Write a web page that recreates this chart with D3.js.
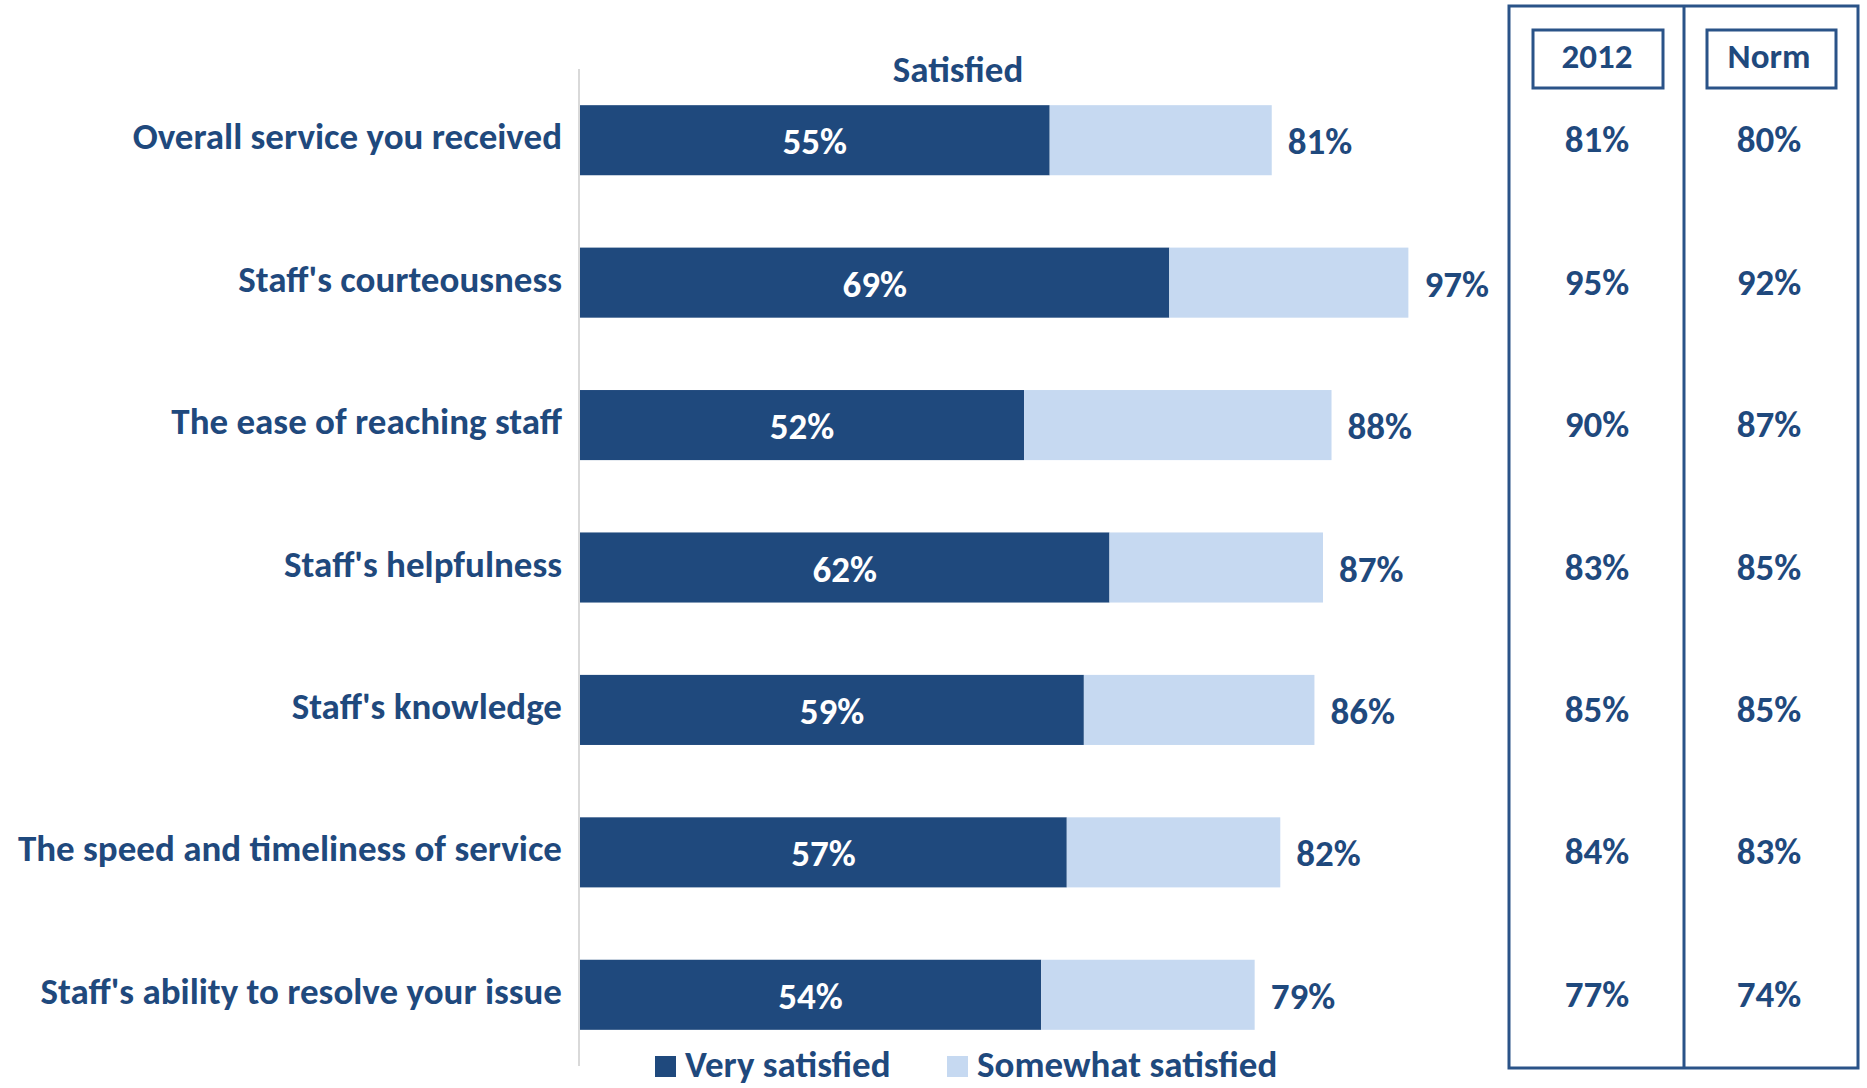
<!DOCTYPE html>
<html>
<head>
<meta charset="utf-8">
<script src="https://cdn.jsdelivr.net/npm/d3@7"></script>
<style>
  html, body { margin: 0; padding: 0; background: #fff; }
  svg text { font-family: Carlito, Lato, "Open Sans", sans-serif; font-weight: bold; }
</style>
</head>
<body>
<svg id="chart" width="1867" height="1088"></svg>
<script>
const categories = [
  "Overall service you received",
  "Staff's courteousness",
  "The ease of reaching staff",
  "Staff's helpfulness",
  "Staff's knowledge",
  "The speed and timeliness of service",
  "Staff's ability to resolve your issue"
];
const verySatisfied = [55, 69, 52, 62, 59, 57, 54];
const somewhatSatisfied = [26, 28, 36, 25, 27, 25, 25];
const totalSatisfied = [81, 97, 88, 87, 86, 82, 79];
const values2012 = [81, 95, 90, 83, 85, 84, 77];
const valuesNorm = [80, 92, 87, 85, 85, 83, 74];
const seriesNames = ["Very satisfied", "Somewhat satisfied"];
const columnHeaders = ["2012", "Norm"];

const dark = "#1F497D", light = "#C6D9F1", textColor = "#1F497D", boxColor = "#2A5388";
const fs = 37;

const svg = d3.select("#chart");

const x = d3.scaleLinear().domain([0, 100]).range([580, 1434]);
const y = d3.scaleBand().domain(categories).range([69, 1066]).paddingInner(0.508).paddingOuter(0.254);

// axis line
svg.append("line")
  .attr("x1", 579).attr("x2", 579)
  .attr("y1", 69).attr("y2", 1066)
  .attr("stroke", "#D9D9D9").attr("stroke-width", 2);

// title
svg.append("text").attr("x", 958).attr("y", 82)
  .attr("text-anchor", "middle").attr("font-size", fs).attr("fill", textColor)
  .text("Satisfied");

const rows = categories.map((c, i) => ({
  c, very: verySatisfied[i], some: somewhatSatisfied[i], total: totalSatisfied[i],
  v2012: values2012[i], norm: valuesNorm[i]
}));

const g = svg.append("g");

g.selectAll("rect.very").data(rows).join("rect")
  .attr("class", "very")
  .attr("x", x(0)).attr("y", d => y(d.c))
  .attr("width", d => x(d.very) - x(0)).attr("height", y.bandwidth())
  .attr("fill", dark);

g.selectAll("rect.some").data(rows).join("rect")
  .attr("class", "some")
  .attr("x", d => x(d.very)).attr("y", d => y(d.c))
  .attr("width", d => x(d.very + d.some) - x(d.very)).attr("height", y.bandwidth())
  .attr("fill", light);

// category labels
g.selectAll("text.cat").data(rows).join("text")
  .attr("class", "cat")
  .attr("x", 562).attr("y", d => y(d.c) + y.bandwidth() / 2 + 9)
  .attr("text-anchor", "end").attr("font-size", fs).attr("fill", textColor)
  .text(d => d.c);

// inside labels
g.selectAll("text.inside").data(rows).join("text")
  .attr("class", "inside")
  .attr("x", d => (x(0) + x(d.very)) / 2).attr("y", d => y(d.c) + y.bandwidth() / 2 + 14)
  .attr("text-anchor", "middle").attr("font-size", fs).attr("fill", "#fff")
  .text(d => d.very + "%");

// total labels
g.selectAll("text.total").data(rows).join("text")
  .attr("class", "total")
  .attr("x", d => x(d.very + d.some) + 16).attr("y", d => y(d.c) + y.bandwidth() / 2 + 14)
  .attr("text-anchor", "start").attr("font-size", fs).attr("fill", textColor)
  .text(d => d.total + "%");

// right panel
const panel = svg.append("g");
panel.append("rect").attr("x", 1509).attr("y", 6).attr("width", 349).attr("height", 1062)
  .attr("fill", "none").attr("stroke", boxColor).attr("stroke-width", 3);
panel.append("line").attr("x1", 1684).attr("x2", 1684).attr("y1", 6).attr("y2", 1068)
  .attr("stroke", boxColor).attr("stroke-width", 3);

const colX = [1597, 1769];
const headerBoxes = [{x: 1533, w: 130}, {x: 1707, w: 129}];
columnHeaders.forEach((h, i) => {
  panel.append("rect").attr("x", headerBoxes[i].x).attr("y", 30)
    .attr("width", headerBoxes[i].w).attr("height", 58)
    .attr("fill", "none").attr("stroke", boxColor).attr("stroke-width", 3);
  panel.append("text").attr("x", colX[i]).attr("y", 68)
    .attr("text-anchor", "middle").attr("font-size", 35).attr("fill", textColor)
    .text(h);
});

panel.selectAll("text.c2012").data(rows).join("text")
  .attr("class", "c2012")
  .attr("x", colX[0]).attr("y", d => y(d.c) + y.bandwidth() / 2 + 12)
  .attr("text-anchor", "middle").attr("font-size", fs).attr("fill", textColor)
  .text(d => d.v2012 + "%");

panel.selectAll("text.cnorm").data(rows).join("text")
  .attr("class", "cnorm")
  .attr("x", colX[1]).attr("y", d => y(d.c) + y.bandwidth() / 2 + 12)
  .attr("text-anchor", "middle").attr("font-size", fs).attr("fill", textColor)
  .text(d => d.norm + "%");

// legend
const legend = svg.append("g");
const legendItems = [{name: seriesNames[0], color: dark, x: 655}, {name: seriesNames[1], color: light, x: 947}];
legendItems.forEach(it => {
  legend.append("rect").attr("x", it.x).attr("y", 1056).attr("width", 21).attr("height", 21).attr("fill", it.color);
  legend.append("text").attr("x", it.x + 30).attr("y", 1077)
    .attr("font-size", fs).attr("fill", textColor).text(it.name);
});
</script>
</body>
</html>
